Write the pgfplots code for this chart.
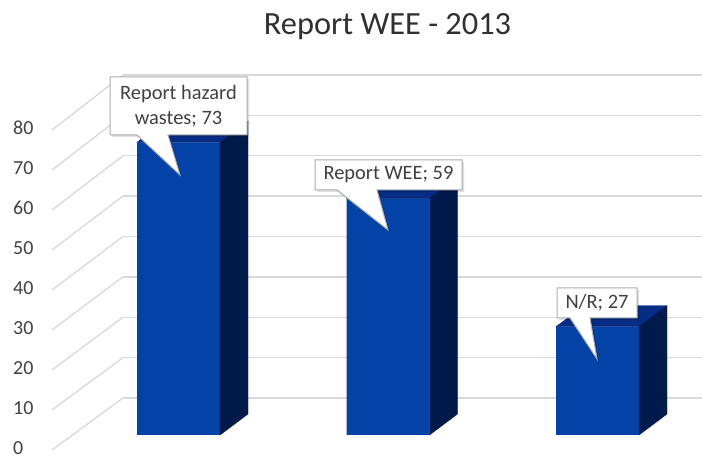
\documentclass[border=0pt]{standalone}
\usepackage{pgfplots}
\usepackage{pgfplotstable}
\pgfplotsset{compat=1.18}
\usepackage{fontspec}
\setmainfont{Carlito}
\definecolor{frontc}{HTML}{0342A6}
\definecolor{sidec}{HTML}{001A4C}
\definecolor{topc}{HTML}{062C84}
\definecolor{gridc}{HTML}{D9D9D9}
\definecolor{txt}{HTML}{404040}
\definecolor{titlec}{HTML}{303030}
\pgfplotstableread{
x v
0 73
1 59
2 27
}\datatable
\begin{document}
\begin{tikzpicture}[x=1bp,y=1bp]
\useasboundingbox (0,0) rectangle (702,458);
% title
\node[anchor=base, font=\fontsize{32.5}{36}\selectfont, text=titlec] at (387.5,423) {Report WEE - 2013};
% side wall gridlines
\foreach \k in {0,...,8} \draw[gridc, line width=1.3bp] (52,{8+40*\k}) -- (123,{60+40.375*\k});
% back wall
\begin{axis}[at={(123bp,60bp)}, anchor=south west, scale only axis,
  width=579bp, height=323bp, xmin=0, xmax=1, ymin=0, ymax=80,
  ytick={0,10,...,80}, xtick=\empty, yticklabels={}, ymajorgrids,
  grid style={gridc, line width=1.3bp}, axis line style={draw=none},
  major tick length=0pt]
\end{axis}
% front tick labels
\begin{axis}[at={(52bp,8bp)}, anchor=south west, scale only axis,
  width=10bp, height=320bp, xmin=0, xmax=1, ymin=0, ymax=80,
  ytick={0,10,...,80}, xtick=\empty, axis line style={draw=none},
  major tick length=0pt,
  yticklabel style={anchor=west, xshift=-39bp, yshift=2bp, inner sep=0pt,
    font=\fontsize{20}{24}\selectfont, text=txt},
  /pgf/number format/assume math mode=true]
\end{axis}
% bars
\begin{axis}[at={(178.5bp,23bp)}, anchor=south west, scale only axis,
  width=419bp, height=320.8bp, xmin=0, xmax=2, ymin=0, ymax=80,
  hide axis, clip=false]
\addplot[ybar, bar width=83bp, bar shift=0pt, fill=frontc, draw=none] table[x=x, y=v] {\datatable};
\addplot[scatter, only marks, mark=*, mark size=0pt,
  mark options={draw=none, fill=none},
  visualization depends on={\thisrow{v} \as \val},
  scatter/@pre marker code/.code={%
    \fill[topc] (-41.5bp,0bp) -- (41.5bp,0bp) -- (69.5bp,21bp) -- (-13.5bp,21bp) -- cycle;
    \fill[sidec] (41.5bp,0bp) -- (69.5bp,21bp) -- (69.5bp,{(21-\val*4.01)*1bp}) -- (41.5bp,{(-\val*4.01)*1bp}) -- cycle;
  },
  scatter/@post marker code/.code={}
  ] table[x=x, y=v] {\datatable};
\end{axis}
% callouts
\begin{scope}[shift={(0,458)}, yscale=-1]
\tikzset{co/.style={draw=gray!65, line width=1bp, fill=white},
         sh/.style={fill=black, opacity=0.12},
         ct/.style={font=\fontsize{20.5}{25}\selectfont, text=txt, align=center}}
\fill[sh] (112,79) -- (249,79) -- (249,137) -- (170,137) -- (182,177) -- (139,137) -- (112,137) -- cycle;
\draw[co] (110,77) -- (247,77) -- (247,135) -- (168,135) -- (180,175) -- (137,135) -- (110,135) -- cycle;
\node[ct] at (178.5,106) {Report hazard\\wastes; 73};
\fill[sh] (317,162) -- (464,162) -- (464,192) -- (379,192) -- (390,232) -- (339,192) -- (317,192) -- cycle;
\draw[co] (315,160) -- (462,160) -- (462,190) -- (377,190) -- (388,230) -- (337,190) -- (315,190) -- cycle;
\node[ct] at (388.5,175) {Report WEE; 59};
\fill[sh] (559,290) -- (639,290) -- (639,320) -- (592,320) -- (599,361) -- (572,320) -- (559,320) -- cycle;
\draw[co] (557,288) -- (637,288) -- (637,318) -- (590,318) -- (597,359) -- (570,318) -- (557,318) -- cycle;
\node[ct] at (597,303) {N/R; 27};
\end{scope}
\end{tikzpicture}
\end{document}
